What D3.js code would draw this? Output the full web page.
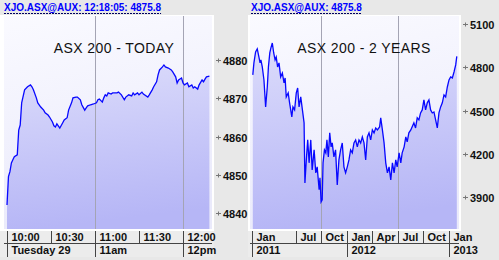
<!DOCTYPE html>
<html lang="en">
<head>
<meta charset="UTF-8">
<title>ASX 200</title>
<script src="https://d3js.org/d3.v7.min.js"></script>
<style>
  body { margin: 0; background: #e8e8e8; }
  svg { display: block; font-family: 'Liberation Sans', Arial, sans-serif; }
  .hdr { font-size: 10px; font-weight: bold; fill: #0000ff; }
  .ttl { font-size: 14px; fill: #111; letter-spacing: 0.4px; }
  .ylab, .xlab { font-size: 11px; font-weight: bold; fill: #111; }
</style>
</head>
<body>
<svg width="499" height="260"></svg>
<script>
// ---- intraday (minutes after 10:00, index level)
var todayMinutes = [0,1,2,3,4,5,7,8,9,10,12,14,16,17,18,20,21,23,25,26,28,29,31,32,33,34,36,38,39,41,
  42,44,45,47,48,50,51,53,54,55,57,59,61,62,63,65,66,67,68,69,71,72,75,76,78,80,81,83,85,86,
  87,89,90,92,93,96,97,99,100,102,103,104,106,107,108,110,112,113,115,116,117,119,120,121,123,124,126,127,128,130,
  131,133,134,135,136,138];
var todayValues = [4842.1,4849.5,4850.8,4853.1,4853.9,4854.7,4855.2,4861.7,4863.0,4868.8,4872.2,4873.0,4873.5,4873.0,4872.2,4870.1,4868.8,4867.7,4866.9,4866.2,
  4865.6,4865.1,4863.8,4862.8,4862.5,4863.3,4862.2,4863.6,4864.3,4864.9,4866.9,4868.8,4870.1,4870.3,4870.3,4869.6,4868.3,4866.9,4867.5,4868.0,
  4868.3,4868.5,4868.8,4869.6,4869.8,4869.0,4870.1,4870.9,4870.6,4871.4,4871.1,4871.4,4871.4,4871.6,4870.9,4869.6,4870.3,4870.9,4870.6,4871.4,
  4870.9,4871.4,4870.9,4871.6,4871.1,4870.3,4870.9,4872.2,4873.0,4874.3,4876.1,4877.4,4878.2,4878.7,4878.2,4877.9,4877.4,4876.9,4875.6,4874.0,
  4874.8,4875.3,4874.0,4873.5,4874.0,4873.0,4873.5,4872.7,4873.0,4872.4,4873.5,4874.8,4874.3,4875.0,4875.6,4875.8];
var todayTicks = ["10:00","10:30","11:00","11:30","12:00"];
var todayDayLabels = ["Tuesday 29","11am","12pm"];
var todayDayTimes = ["10:00","11:00","12:00"];
var todayGrid = ["11:00","12:00"];
var todayYTicks = [4840,4850,4860,4870,4880];

// ---- two years (days after 2011-01-28, index level)
var yearsDays = [0,4,10,16,22,26,29,34,40,46,52,56,61,65,70,75,80,84,89,94,
  100,106,112,116,120,127,132,140,144,150,156,161,166,172,178,184,187,192,197,202,
  208,213,220,226,231,238,241,245,249,252,257,262,266,271,276,281,285,291,297,303,
  309,315,321,327,333,339,345,351,357,363,369,375,381,387,393,399,405,411,417,423,
  429,435,441,447,455,459,465,471,477,483,489,495,501,507,513,518,525,531,536,543,
  549,554,560,567,570,578,584,590,596,602,608,614,620,626,632,638,644,650,656,662,
  668,674,680,686,692,698,704,710,716,722,728,732];
var yearsValues = [4747,4830,4906,4927,4871,4830,4851,4802,4712,4525,4663,4802,4899,4934,4968,4899,4851,4871,4802,4830,
  4733,4760,4691,4726,4594,4622,4553,4456,4525,4504,4622,4656,4525,4594,4504,4414,3998,4157,4296,4137,
  4296,4088,4227,4067,4109,3950,4033,3866,3880,4137,4227,4206,4296,4178,4345,4248,4275,4178,4227,3984,
  4157,4227,4275,4109,4067,4109,4157,4227,4206,4275,4296,4248,4296,4275,4317,4275,4157,4317,4345,4296,
  4365,4345,4379,4365,4386,4449,4365,4275,4137,4067,4109,4019,4137,4067,4157,4109,4206,4137,4206,4248,
  4317,4282,4345,4365,4379,4414,4379,4449,4435,4483,4504,4573,4504,4553,4573,4504,4483,4490,4435,4379,
  4483,4525,4553,4608,4594,4663,4712,4733,4726,4767,4816,4875.8];
var yearsMonthLabels = ["Jan","Jul","Oct","Jan","Apr","Jul","Oct","Jan"];
var yearsMonthDates = ["2011-01-01","2011-07-01","2011-10-01","2012-01-01","2012-04-01","2012-07-01","2012-10-01","2013-01-01"];
var yearsYearLabels = ["2011","2012","2013"];
var yearsYearDates = ["2011-01-01","2012-01-01","2013-01-01"];
var yearsGrid = ["2011-10-01","2012-07-01"];
var yearsYTicks = [3900,4200,4500,4800,5100];

var svg = d3.select("svg");
var parseClock = d3.timeParse("%Y-%m-%d %H:%M");
var parseDay = d3.timeParse("%Y-%m-%d");
function clock(s) { return parseClock("2013-01-29 " + s); }

var defs = svg.append("defs");
var bg = defs.append("linearGradient").attr("id", "bgGrad").attr("x1", 0).attr("y1", 0).attr("x2", 0.2).attr("y2", 1);
bg.append("stop").attr("offset", "0%").attr("stop-color", "#fafaff");
bg.append("stop").attr("offset", "100%").attr("stop-color", "#eaeafb");
var fg = defs.append("linearGradient").attr("id", "fillGrad").attr("x1", 0).attr("y1", 0).attr("x2", 0.15).attr("y2", 1);
fg.append("stop").attr("offset", "0%").attr("stop-color", "#dcdcfb");
fg.append("stop").attr("offset", "100%").attr("stop-color", "#b6b6f6");

// header band
svg.append("rect").attr("x", 0).attr("y", 0).attr("width", 499).attr("height", 15).attr("fill", "#e8e8e8");

function header(x, txt) {
  var t = svg.append("text").attr("class", "hdr").attr("x", x).attr("y", 11).text(txt);
  var w = t.node().getComputedTextLength();
  svg.append("line").attr("x1", x).attr("x2", x + w).attr("y1", 13.5).attr("y2", 13.5)
    .attr("stroke", "#000060").attr("stroke-width", 1).attr("stroke-dasharray", "2,1");
}

function drawPanel(p) {
  var g = svg.append("g");
  var id = "clip" + p.name;
  defs.append("clipPath").attr("id", id).append("rect")
    .attr("x", p.x0).attr("y", p.y0).attr("width", p.x1 - p.x0).attr("height", p.y1 - p.y0);

  g.append("rect").attr("x", p.bx).attr("y", 15).attr("width", p.x1 + 2 - p.bx).attr("height", p.y1 + 2 - 15).attr("fill", "#fff");
  g.append("rect").attr("x", p.x0).attr("y", p.y0).attr("width", p.x1 - p.x0).attr("height", p.y1 - p.y0).attr("fill", "url(#bgGrad)");

  var pts = p.xs.map(function(d, i) { return [d, p.ys[i]]; });
  var area = d3.area().x(function(d) { return p.x(d[0]); }).y0(p.y1).y1(function(d) { return p.y(d[1]); });
  var line = d3.line().x(function(d) { return p.x(d[0]); }).y(function(d) { return p.y(d[1]); });

  var c = g.append("g").attr("clip-path", "url(#" + id + ")");
  c.append("path").datum(pts).attr("d", area).attr("fill", "url(#fillGrad)");
  c.selectAll("line.grid").data(p.grid).enter().append("line").attr("class", "grid")
    .attr("x1", function(d) { return Math.round(p.x(d)) + 0.5; }).attr("x2", function(d) { return Math.round(p.x(d)) + 0.5; })
    .attr("y1", p.y0).attr("y2", p.y1).attr("stroke", "#a4a4b4").attr("stroke-width", 1);
  c.append("path").datum(pts).attr("d", line).attr("fill", "none").attr("stroke", "#0808ff").attr("stroke-width", 1.3);

  // y ticks
  var yt = g.selectAll("g.yt").data(p.yticks).enter().append("g").attr("class", "yt")
    .attr("transform", function(d) { return "translate(" + (p.x1 + 4) + "," + Math.round(p.y(d)) + ")"; });
  yt.append("line").attr("x1", 0).attr("x2", 5).attr("y1", 0.5).attr("y2", 0.5).attr("stroke", "#777");
  yt.append("line").attr("x1", 2.5).attr("x2", 2.5).attr("y1", -1.5).attr("y2", 2.5).attr("stroke", "#777");
  yt.append("text").attr("class", "ylab").attr("x", 7).attr("y", 4.5).text(function(d) { return d; });

  // x axis rows
  var rowTop = p.y1 + 2, mid = p.y1 + 14.5, rowBot = p.y1 + 28;
  g.append("rect").attr("x", p.bx).attr("y", rowTop).attr("width", p.x1 + 2 - p.bx).attr("height", rowBot - rowTop).attr("fill", "#ececec");
  g.append("line").attr("x1", p.x0).attr("x2", p.x1).attr("y1", mid).attr("y2", mid).attr("stroke", "#444");
  function cellX(d) { return Math.max(Math.round(p.x(d)), p.x0 + 2) + 0.5; }
  g.selectAll("line.r1").data(p.row1).enter().append("line").attr("class", "r1")
    .attr("x1", function(d) { return cellX(d[1]); }).attr("x2", function(d) { return cellX(d[1]); })
    .attr("y1", rowTop).attr("y2", mid).attr("stroke", "#444");
  g.selectAll("text.r1").data(p.row1).enter().append("text").attr("class", "xlab r1")
    .attr("x", function(d) { return cellX(d[1]) + 4; }).attr("y", p.y1 + 12).text(function(d) { return d[0]; });
  g.selectAll("line.r2").data(p.row2).enter().append("line").attr("class", "r2")
    .attr("x1", function(d) { return cellX(d[1]); }).attr("x2", function(d) { return cellX(d[1]); })
    .attr("y1", mid).attr("y2", rowBot).attr("stroke", "#444");
  g.selectAll("text.r2").data(p.row2).enter().append("text").attr("class", "xlab r2")
    .attr("x", function(d) { return cellX(d[1]) + 4; }).attr("y", p.y1 + 25).text(function(d) { return d[0]; });

  svg.append("text").attr("class", "ttl").attr("x", p.tx).attr("y", 53).attr("text-anchor", "middle").text(p.title);
}

// left: today
var xToday = d3.scaleTime().domain([clock("10:00"), clock("12:00")]).range([7, 183]);
var yToday = d3.scaleLinear().domain([4840, 4880]).range([213, 60]);
drawPanel({
  name: "today", x0: 4, x1: 212, y0: 16, y1: 229, bx: 0,
  x: xToday, y: yToday,
  xs: todayMinutes.map(function(m) { return d3.timeMinute.offset(clock("10:00"), m); }),
  ys: todayValues,
  grid: todayGrid.map(clock),
  yticks: todayYTicks,
  row1: todayTicks.map(function(t) { return [t, clock(t)]; }),
  row2: todayDayLabels.map(function(t, i) { return [t, clock(todayDayTimes[i])]; }),
  title: "ASX 200 - TODAY", tx: 114
});

// right: two years
var start = parseDay("2011-01-28");
var xYears = d3.scaleTime().domain([parseDay("2012-01-01"), parseDay("2013-01-01")]).range([347, 449]);
var yYears = d3.scaleLinear().domain([3900, 5100]).range([197, 24]);
drawPanel({
  name: "years", x0: 250, x1: 459, y0: 16, y1: 229, bx: 248,
  x: xYears, y: yYears,
  xs: yearsDays.map(function(d) { return d3.timeDay.offset(start, d); }),
  ys: yearsValues,
  grid: yearsGrid.map(parseDay),
  yticks: yearsYTicks,
  row1: yearsMonthLabels.map(function(t, i) { return [t, parseDay(yearsMonthDates[i])]; }),
  row2: yearsYearLabels.map(function(t, i) { return [t, parseDay(yearsYearDates[i])]; }),
  title: "ASX 200 - 2 YEARS", tx: 364
});

header(4, "XJO.ASX@AUX: 12:18:05: 4875.8");
header(251, "XJO.ASX@AUX: 4875.8");
</script>
</body>
</html>
